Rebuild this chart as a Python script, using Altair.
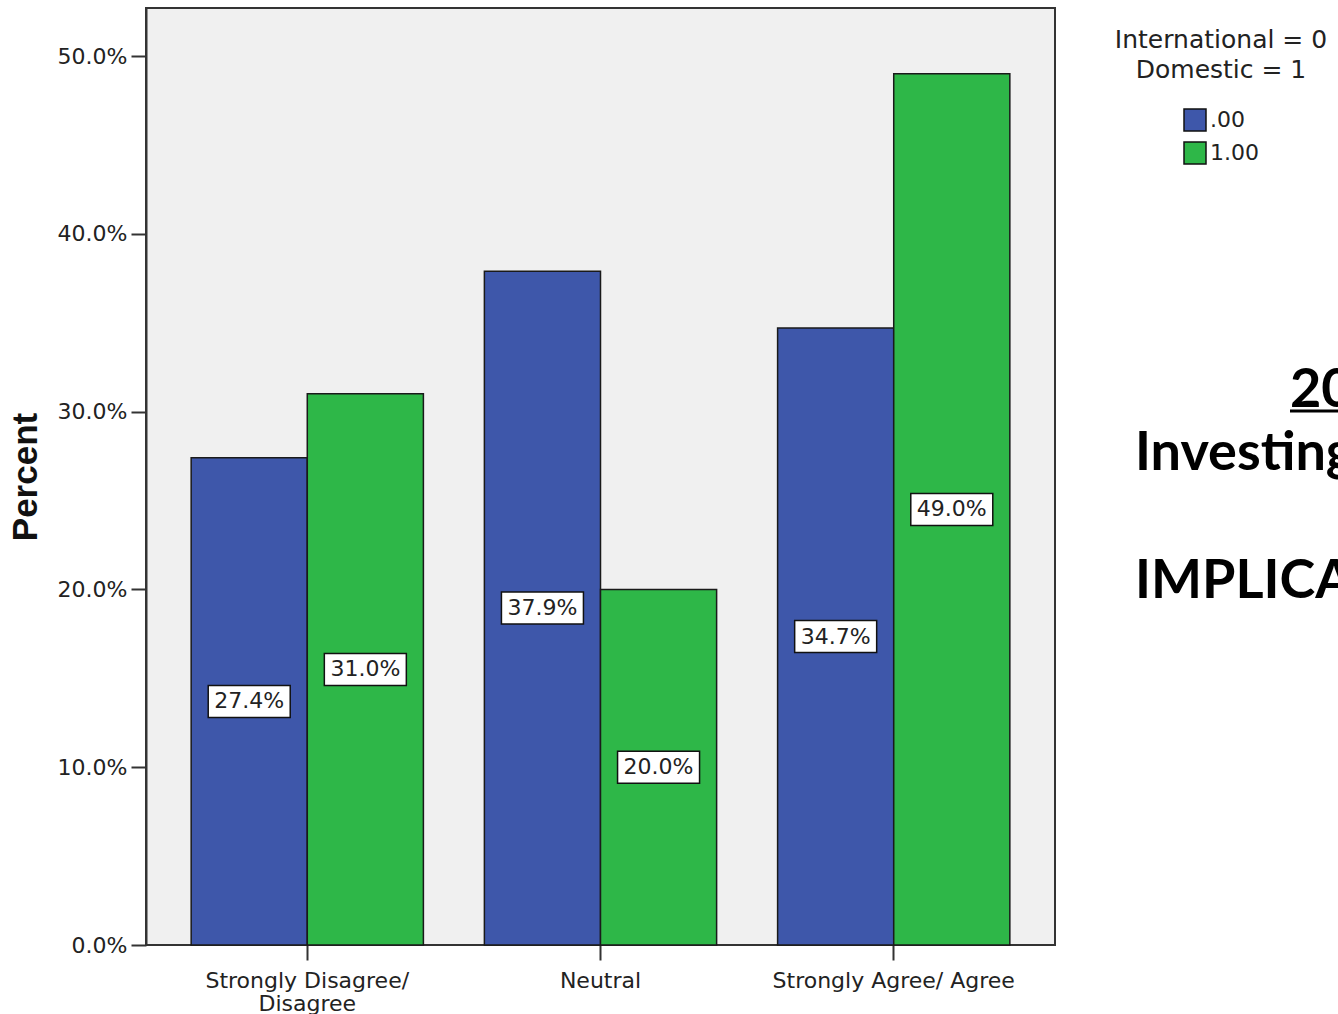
import altair as alt
import pandas as pd

categories = ["Strongly Disagree/ Disagree", "Neutral", "Strongly Agree/ Agree"]
groups = [".00", "1.00"]
international = [27.4, 37.9, 34.7]
domestic = [31.0, 20.0, 49.0]
legend_title = ["International = 0", "Domestic = 1"]
y_ticks = [0, 10, 20, 30, 40, 50]
side_text = ["20", "Investing", "IMPLICAT"]
colors = ["#3E57AA", "#2EB748"]

rows = []
for c, a, b in zip(categories, international, domestic):
    rows.append({"cat": c, "grp": groups[0], "pct": a})
    rows.append({"cat": c, "grp": groups[1], "pct": b})
df = pd.DataFrame(rows)

FONT = "DejaVu Sans"

x_enc = alt.X(
    "cat:N",
    sort=categories,
    scale=alt.Scale(paddingInner=0.208, paddingOuter=0.154),
    axis=alt.Axis(
        title=None,
        labelAngle=0,
        labelFont=FONT,
        labelFontSize=22,
        labelColor="#222",
        labelLineHeight=23,
        labelPadding=10,
        labelLimit=0,
        labelExpr="datum.label == 'Strongly Disagree/ Disagree' ? ['Strongly Disagree/', 'Disagree'] : datum.label",
        tickSize=15,
        tickWidth=2,
        tickColor="#333",
        domain=False,
    ),
)
xo_enc = alt.XOffset("grp:N", sort=groups, scale=alt.Scale(paddingInner=0, paddingOuter=0))
y_axis = alt.Axis(
    values=y_ticks,
    labelExpr="format(datum.value, '.1f') + '%'",
    title="Percent",
    titleFont="Liberation Sans",
    titleFontSize=35,
    titleFontWeight="bold",
    titleColor="#111",
    titlePadding=14,
    labelFont=FONT,
    labelFontSize=22,
    labelColor="#222",
    labelPadding=4,
    tickSize=15,
    tickWidth=2,
    tickColor="#333",
    domainColor="#333",
    domainWidth=2,
    grid=False,
)
y_scale = alt.Scale(domain=[0, 52.7], nice=False, zero=True)

base = alt.Chart(df)

bars = base.mark_bar(stroke="#1a1a1a", strokeWidth=1.5, opacity=1).encode(
    x=x_enc,
    xOffset=xo_enc,
    y=alt.Y("pct:Q", scale=y_scale, axis=y_axis),
    color=alt.Color(
        "grp:N",
        sort=groups,
        scale=alt.Scale(domain=groups, range=colors),
        legend=alt.Legend(
            orient="none",
            legendX=969,
            legendY=20,
            title=legend_title,
            titleAnchor="middle",
            titleAlign="center",
            titleFont=FONT,
            titleFontSize=25,
            titleFontWeight="normal",
            titleColor="#222",
            titleLineHeight=30,
            titlePadding=25,
            titleLimit=0,
            labelFont=FONT,
            labelFontSize=22,
            labelColor="#222",
            labelOffset=3,
            symbolType="square",
            symbolSize=484,
            symbolStrokeColor="#111",
            symbolStrokeWidth=1.5,
            symbolOpacity=1,
            rowPadding=5,
            padding=0,
        ),
    ),
)

mid = base.transform_calculate(mid="datum.pct / 2", label="format(datum.pct, '.1f') + '%'")

boxes = mid.mark_point(
    shape="M-1,-0.39L1,-0.39L1,0.39L-1,0.39Z",
    size=6724,
    filled=True,
    fill="white",
    stroke="#111",
    strokeWidth=1.5,
    opacity=1,
).encode(x=x_enc, xOffset=xo_enc, y=alt.Y("mid:Q", scale=y_scale, axis=y_axis))

labels = mid.mark_text(font=FONT, fontSize=22, color="#222").encode(
    x=x_enc, xOffset=xo_enc, y=alt.Y("mid:Q", scale=y_scale, axis=y_axis), text="label:N"
)


def side(i, px, py):
    return alt.Chart(alt.Data(values=[{"t": side_text[i]}])).mark_text(
        font="Lato", fontWeight="bold", fontSize=54, align="left", baseline="alphabetic", color="black"
    ).encode(x=alt.value(px), y=alt.value(py), text="t:N")


underline = alt.Chart(alt.Data(values=[{"t": side_text[0]}])).mark_rule(color="black", strokeWidth=3).encode(
    x=alt.value(1144), x2=alt.value(1200), y=alt.value(403)
)

chart = (
    alt.layer(bars, boxes, labels, side(0, 1144, 399), underline, side(1, 989, 462), side(2, 989, 590))
    .properties(
        width=909,
        height=937,
        autosize=alt.AutoSizeParams(type="none"),
        padding={"left": 146, "top": 8, "right": 283, "bottom": 69},
        background="white",
    )
    .configure_view(fill="#F0F0F0", stroke="#333", strokeWidth=2)
)

chart.save("out.html", embed_options={"renderer": "svg", "actions": False})
